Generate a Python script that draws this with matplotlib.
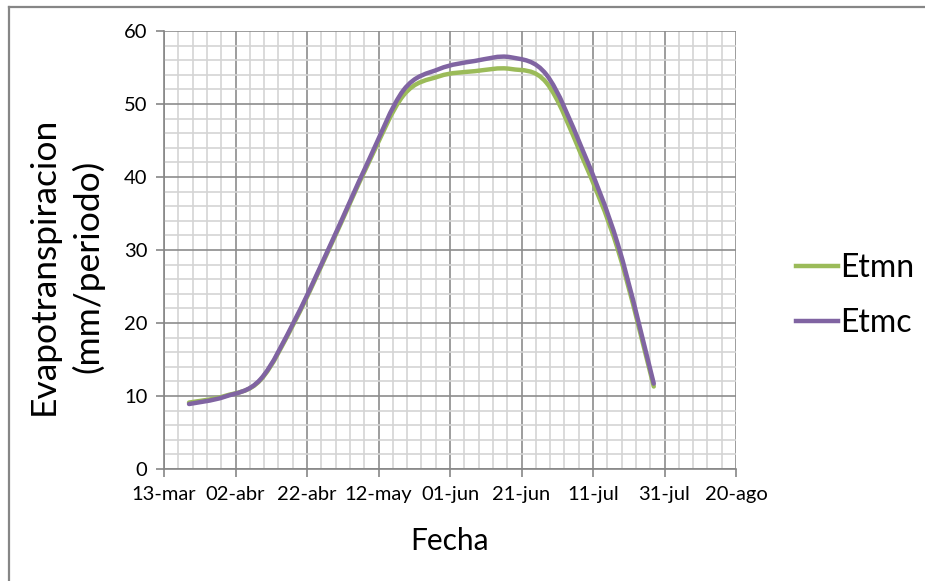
import numpy as np
import pandas as pd
import matplotlib
matplotlib.use("Agg")
import matplotlib.pyplot as plt
import matplotlib.dates as mdates
from matplotlib.path import Path
from matplotlib.patches import PathPatch
from matplotlib.lines import Line2D

# ten-day periods of the season
fechas = ["2011-03-20", "2011-03-30", "2011-04-09", "2011-04-19", "2011-04-29",
          "2011-05-09", "2011-05-19", "2011-05-29", "2011-06-08", "2011-06-18",
          "2011-06-28", "2011-07-08", "2011-07-18", "2011-07-28"]
etmn = [9.1, 10.0, 12.2, 20.6, 31.0, 41.7, 51.2, 53.8, 54.5, 54.8, 52.9, 42.7, 30.0, 11.3]
etmc = [8.9, 9.9, 12.3, 20.8, 31.2, 42.0, 51.9, 54.8, 55.9, 56.4, 54.0, 43.8, 30.7, 11.7]

tick_fechas = ["2011-03-13", "2011-04-02", "2011-04-22", "2011-05-12", "2011-06-01",
               "2011-06-21", "2011-07-11", "2011-07-31", "2011-08-20"]
tick_labels = ["13-mar", "02-abr", "22-abr", "12-may", "01-jun",
               "21-jun", "11-jul", "31-jul", "20-ago"]

verde = "#9BBB59"
morado = "#8064A2"
gris = "#868686"

plt.rcParams['font.family'] = ['Lato', 'DejaVu Sans']


def smooth_path(x, y):
    # spreadsheet style smoothed line: cubic bezier segments through the points
    x = np.asarray(x, float)
    y = np.asarray(y, float)
    pts = np.column_stack([x, y])
    n = len(pts)
    verts = [pts[0]]
    codes = [Path.MOVETO]
    for i in range(n - 1):
        p0 = pts[i - 1] if i > 0 else pts[i]
        p1 = pts[i]
        p2 = pts[i + 1]
        p3 = pts[i + 2] if i + 2 < n else pts[i + 1]
        c1 = p1 + (p2 - p0) / 6.0
        c2 = p2 - (p3 - p1) / 6.0
        verts += [c1, c2, p2]
        codes += [Path.CURVE4] * 3
    return Path(verts, codes)


x = mdates.date2num(pd.to_datetime(fechas))
xt = mdates.date2num(pd.to_datetime(tick_fechas))

fig = plt.figure(figsize=(9.25, 5.81), dpi=100)
ax = fig.add_axes([164 / 925, 112 / 581, 572 / 925, 438 / 581])

ax.set_xlim(xt[0], xt[-1])
ax.set_ylim(0, 60)
ax.set_xticks(xt)
ax.set_xticklabels(tick_labels)
ax.set_xticks(np.arange(xt[0], xt[-1] + 0.1, 4), minor=True)
ax.set_yticks(np.arange(0, 61, 10))
ax.set_yticks(np.arange(0, 61, 2), minor=True)

ax.grid(which="minor", color="#d4d4d4", linewidth=1.2)
ax.grid(which="major", color="#8c8c8c", linewidth=1.2)
ax.set_axisbelow(True)

for s in ["top", "right"]:
    ax.spines[s].set_visible(False)
for s in ["left", "bottom"]:
    ax.spines[s].set_color(gris)
    ax.spines[s].set_linewidth(1.2)

ax.tick_params(which="major", length=6, width=1.2, color=gris, labelsize=14.5, pad=6)
ax.tick_params(which="minor", length=0)

for serie, color in [(etmn, verde), (etmc, morado)]:
    ax.add_patch(PathPatch(smooth_path(x, serie), facecolor="none", edgecolor=color,
                           linewidth=3.2, capstyle="round", joinstyle="round", zorder=3))

handles = [Line2D([], [], color=verde, linewidth=3.2),
           Line2D([], [], color=morado, linewidth=3.2)]
fig.legend(handles, ["Etmn", "Etmc"], loc="center left", bbox_to_anchor=(796 / 925, 0.4914),
           frameon=False, fontsize=23, handlelength=1.3, handletextpad=0.08,
           labelspacing=0.8, borderpad=0, borderaxespad=0)

fig.text(66 / 925, 1 - 266 / 581, "Evapotranspiracion\n(mm/periodo)", rotation=90,
         ha="center", va="center", multialignment="center", fontsize=25.5, linespacing=1.45)
fig.text(450 / 925, 1 - 541 / 581, "Fecha", ha="center", va="center", fontsize=21.5)

# outer chart frame
fig.add_artist(Line2D([8.5 / 925, 1.0], [1 - 6.5 / 581, 1 - 6.5 / 581],
                      transform=fig.transFigure, color=gris, linewidth=1.6))
fig.add_artist(Line2D([8.5 / 925, 8.5 / 925], [0.0, 1 - 6.5 / 581],
                      transform=fig.transFigure, color=gris, linewidth=1.6))

fig.savefig("out.png", dpi=100)
